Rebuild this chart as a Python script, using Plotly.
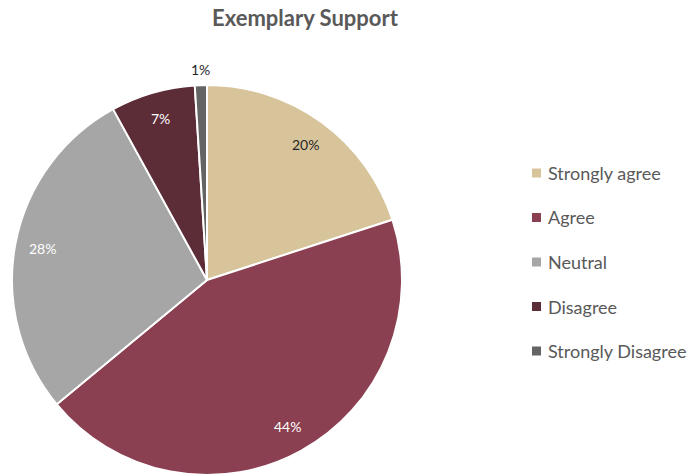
import math
import plotly.graph_objects as go

# Survey responses for "Exemplary Support"
categories = ["Strongly agree", "Agree", "Neutral", "Disagree", "Strongly Disagree"]
percentages = [20, 44, 28, 7, 1]
slice_colors = ["#D8C49B", "#8B4051", "#A6A6A6", "#5C2C37", "#646464"]
label_colors = ["#262626", "#FFFFFF", "#FFFFFF", "#FFFFFF", "#262626"]

W, H = 694, 476
CX, CY, R = 207, 280, 195  # pie centre and radius in pixels

def px_to_paper(px, py):
    return px / W, 1 - py / H

x0, y1 = px_to_paper(CX - R, CY - R)
x1, y0 = px_to_paper(CX + R, CY + R)

fig = go.Figure(
    go.Pie(
        labels=categories,
        values=percentages,
        sort=False,
        direction="clockwise",
        rotation=0,
        marker=dict(colors=slice_colors, line=dict(color="white", width=2)),
        textinfo="none",
        hoverinfo="label+percent",
        showlegend=False,
        domain=dict(x=[x0, x1], y=[y0, y1]),
    )
)

annotations = []
total = sum(percentages)
cum = 0
for cat, val, tc in zip(categories, percentages, label_colors):
    mid = (cum + val / 2) / total * 2 * math.pi
    cum += val
    frac = 1.08 if val / total < 0.03 else 0.86
    px = CX + frac * R * math.sin(mid)
    py = CY - frac * R * math.cos(mid)
    ax, ay = px_to_paper(px, py)
    annotations.append(dict(
        x=ax, y=ay, xref="paper", yref="paper", showarrow=False,
        text=f"{val}%", font=dict(family="Lato", size=14, color=tc),
        xanchor="center", yanchor="middle",
    ))

# Legend drawn as squares plus labels
legend_top, legend_step = 173, 44.5
shapes = []
for i, (cat, col) in enumerate(zip(categories, slice_colors)):
    py = legend_top + i * legend_step
    sx0, sy1 = px_to_paper(532, py - 4.5)
    sx1, sy0 = px_to_paper(541, py + 4.5)
    shapes.append(dict(type="rect", xref="paper", yref="paper",
                       x0=sx0, x1=sx1, y0=sy0, y1=sy1,
                       fillcolor=col, line=dict(width=0)))
    tx, ty = px_to_paper(546, py)
    annotations.append(dict(
        x=tx, y=ty, xref="paper", yref="paper", showarrow=False,
        text=cat, font=dict(family="Lato", size=18, color="#595959"),
        xanchor="left", yanchor="middle",
    ))

tx, ty = px_to_paper(305, 18)
annotations.append(dict(
    x=tx, y=ty, xref="paper", yref="paper", showarrow=False,
    text="<b>Exemplary Support</b>",
    font=dict(family="Lato", size=22, color="#595959"),
    xanchor="center", yanchor="middle",
))

fig.update_layout(
    width=W, height=H,
    margin=dict(l=0, r=0, t=0, b=0),
    paper_bgcolor="white",
    plot_bgcolor="white",
    annotations=annotations,
    shapes=shapes,
)

fig.write_html("out.html")
